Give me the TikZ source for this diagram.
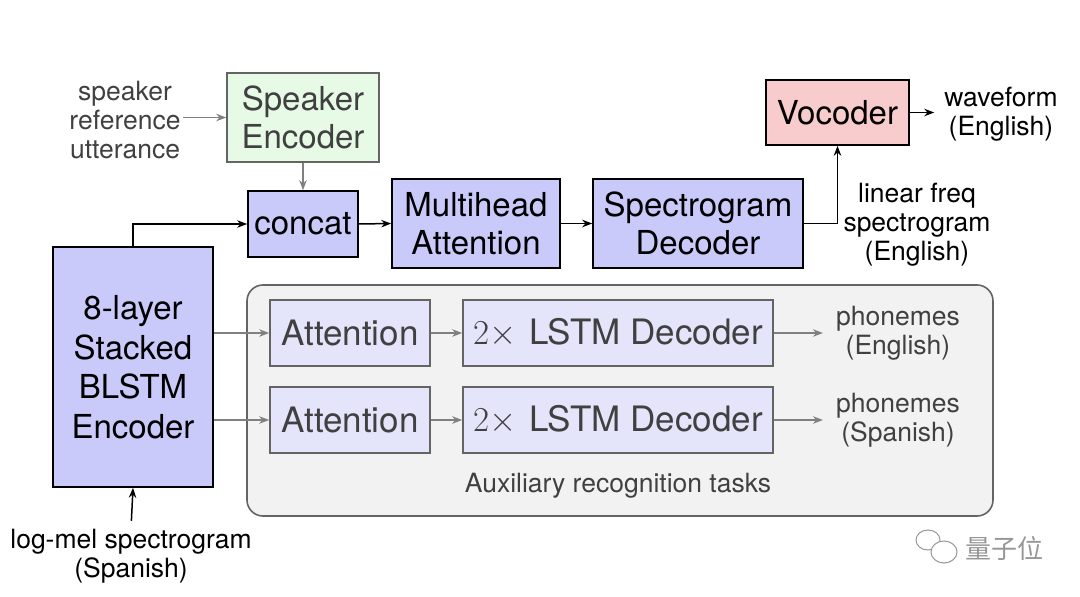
\RequirePackage{fix-cm}
\documentclass[tikz,border=0pt]{standalone}
\usepackage[no-math]{fontspec}
\setmainfont{TeX Gyre Heros}
\newfontfamily\cjkfont{Noto Sans CJK SC}
\usetikzlibrary{arrows.meta,positioning}

\definecolor{encblue}{RGB}{201,201,250}
\definecolor{spkgreen}{RGB}{230,250,230}
\definecolor{vocpink}{RGB}{248,204,204}
\definecolor{panelgray}{RGB}{242,242,242}
\definecolor{auxblue}{RGB}{228,228,250}
\definecolor{edgegray}{RGB}{100,100,100}
\definecolor{txtgray}{RGB}{64,64,64}
\definecolor{arrgray}{RGB}{128,128,128}
\definecolor{markgray}{RGB}{150,150,150}

\newcommand{\boxfont}{\fontsize{33}{38}\selectfont}
\newcommand{\lblfont}{\fontsize{26.5}{29}\selectfont}

\tikzset{
  blk/.style={draw=black, fill=encblue, line width=1.6pt, inner sep=0pt, align=center, font=\boxfont},
  spkbox/.style={blk, draw=edgegray, fill=spkgreen, text=txtgray},
  vocbox/.style={blk, fill=vocpink},
  auxbox/.style={blk, draw=edgegray, fill=auxblue, text=txtgray, minimum height=66pt, font=\fontsize{35}{40}\selectfont},
  panel/.style={draw=edgegray, fill=panelgray, line width=1.6pt, rounded corners=16pt},
  lbl/.style={inner sep=0pt, align=center, font=\lblfont},
  fwd/.style={line width=1.5pt, -{Stealth[length=10pt,width=7.5pt]}},
  gfwd/.style={fwd, draw=arrgray}
}

\begin{document}
\begin{tikzpicture}[x=1pt,y=-1pt]
  \useasboundingbox (0,0) rectangle (1080,597);

  % synthesis path
  \node[spkbox, minimum width=152pt, minimum height=89pt] (spk) at (303,117.5) {Speaker\\Encoder};
  \node[lbl, text=txtgray] (ref) at (125,120) {speaker\\reference\\utterance};
  \node[blk, minimum width=110pt, minimum height=66pt] (concat) at (303,224) {concat};
  \node[blk, minimum width=168pt, minimum height=89pt] (mha) at (476,223.5) {Multihead\\Attention};
  \node[blk, minimum width=210pt, minimum height=89pt] (spec) at (698,223.5) {Spectrogram\\Decoder};
  \node[vocbox, minimum width=143pt, minimum height=65pt] (voc) at (837.5,112.5) {Vocoder};
  \node[lbl] (wave) at (1001,114) {waveform\\(English)};
  \node[lbl] (lin) at (917,225) {linear freq\\spectrogram\\(English)};

  % encoder
  \node[blk, font=\fontsize{33}{39.5}\selectfont, minimum width=160pt, minimum height=240pt] (enc) at (133,367) {8-layer\\Stacked\\BLSTM\\Encoder};
  \node[lbl] (mel) at (131,556) {log-mel spectrogram\\(Spanish)};

  % auxiliary tasks
  \node[panel, minimum width=746pt, minimum height=231pt] (aux) at (620,400.5) {};
  \node[auxbox, minimum width=160pt] (att1) at (350,333) {Attention};
  \node[auxbox, minimum width=160pt] (att2) at (350,420) {Attention};
  \node[auxbox, minimum width=310pt] (dec1) at (618,333) {$2\times$\hspace{3pt} LSTM Decoder};
  \node[auxbox, minimum width=310pt] (dec2) at (618,420) {$2\times$\hspace{3pt} LSTM Decoder};
  \node[lbl, text=txtgray] (ph1) at (898,333) {phonemes\\(English)};
  \node[lbl, text=txtgray] (ph2) at (898,420) {phonemes\\(Spanish)};
  \node[lbl, text=txtgray] (auxlbl) at (618,486) {Auxiliary recognition tasks};

  % connectors
  \draw[gfwd, shorten <=2pt] (ref.east |- spk.west) -- (spk.west);
  \draw[gfwd] (spk.south) -- (concat.north);
  \draw[fwd] (enc.north) |- (concat.west);
  \draw[fwd] (concat.east) -- (mha.west);
  \draw[fwd] (mha.east) -- (spec.west);
  \draw[fwd] (spec.east) -| (voc.south);
  \draw[fwd, shorten >=10pt] (voc.east) -- (voc.east -| wave.west);
  \draw[fwd, shorten <=8pt] (mel.north) -- (enc.south);

  \draw[gfwd] (att1.west -| enc.east) -- (att1.west);
  \draw[gfwd] (att2.west -| enc.east) -- (att2.west);
  \draw[gfwd] (att1.east) -- (dec1.west);
  \draw[gfwd] (att2.east) -- (dec2.west);
  \draw[gfwd, shorten >=13pt] (dec1.east) -- (dec1.east -| ph1.west);
  \draw[gfwd, shorten >=13pt] (dec2.east) -- (dec2.east -| ph2.west);

  % watermark
  \draw[markgray, line width=1pt] (928,540) ellipse (12pt and 10pt);
  \draw[markgray, line width=1pt, fill=white] (944,552) ellipse (13pt and 11pt);
  \node[inner sep=0pt, text=markgray, font=\cjkfont\fontsize{26}{28}\selectfont] (mark) at (1004,549) {量子位};
\end{tikzpicture}
\end{document}
